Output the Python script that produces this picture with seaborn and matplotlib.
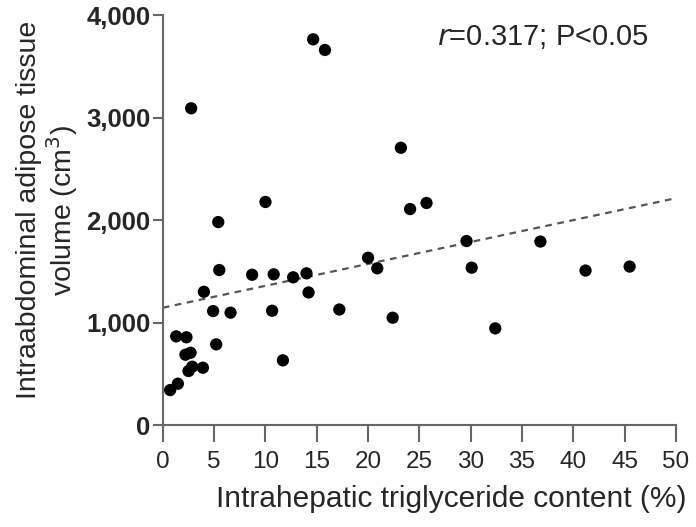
import matplotlib
matplotlib.use("Agg")
import matplotlib.pyplot as plt
import numpy as np
import seaborn as sns

# intrahepatic triglyceride content (%) vs intraabdominal adipose tissue volume (cm3)
ihtg = [0.71, 1.46, 1.3, 2.3, 2.2, 2.7, 2.86, 2.5, 3.9, 2.76,
        4.0, 4.9, 5.2, 5.4, 5.5, 6.6, 8.7, 10.0, 10.8, 10.65,
        11.7, 12.7, 14.0, 14.2, 14.65, 15.8, 17.2, 20.0, 20.9, 22.4,
        23.2, 24.1, 25.7, 29.6, 30.1, 32.4, 36.8, 41.2, 45.5]
iat = [341, 403, 865, 856, 686, 705, 569, 527, 559, 3090,
       1300, 1112, 787, 1980, 1512, 1096, 1466, 2176, 1470, 1115,
       631, 1441, 1480, 1293, 3763, 3659, 1127, 1632, 1529, 1047,
       2705, 2107, 2166, 1795, 1535, 943, 1790, 1507, 1546]

xticks = list(range(0, 51, 5))
yticks = [0, 1000, 2000, 3000, 4000]
ytick_labels = ["0", "1,000", "2,000", "3,000", "4,000"]

sns.set_style("ticks")
plt.rcParams["font.family"] = ["Liberation Sans", "DejaVu Sans"]

fig = plt.figure(figsize=(6.96, 5.27), dpi=100)
ax = fig.add_axes([0.234, 0.1935, 0.737, 0.778])

sns.scatterplot(x=ihtg, y=iat, ax=ax, color="black", s=78, edgecolor="none", zorder=3)

# linear fit, dashed
slope, icpt = np.polyfit(ihtg, iat, 1)
xs = np.array([0, 50])
ax.plot(xs, icpt + slope * xs, ls=(0, (3, 2.5)), color="#555555", lw=1.6, zorder=2)

ax.set_xlim(0, 50)
ax.set_ylim(0, 4000)
ax.set_xticks(xticks)
ax.set_yticks(yticks)
ax.set_yticklabels(ytick_labels, fontweight="bold")
ax.tick_params(axis="x", labelsize=17.5, length=12, width=1.5, color="#666666", pad=7)
ax.tick_params(axis="y", labelsize=18.5, length=7, width=1.5, color="#666666", pad=2)

for side in ["top", "right"]:
    ax.spines[side].set_visible(False)
for side in ["left", "bottom"]:
    ax.spines[side].set_color("#666666")
    ax.spines[side].set_linewidth(1.5)

ax.set_xlabel("Intrahepatic triglyceride content (%)", fontsize=21.5)
ax.xaxis.set_label_coords(0.563, -0.146)
ax.set_ylabel("Intraabdominal adipose tissue\nvolume (cm$^3$)", fontsize=20.5,
              linespacing=1.05)
ax.yaxis.set_label_coords(-0.162, 0.524)

ax.text(0.535, 0.98, r"$\it{r}$=0.317; P<0.05", transform=ax.transAxes,
        fontsize=21, ha="left", va="top")

fig.savefig("out.png", dpi=100)
